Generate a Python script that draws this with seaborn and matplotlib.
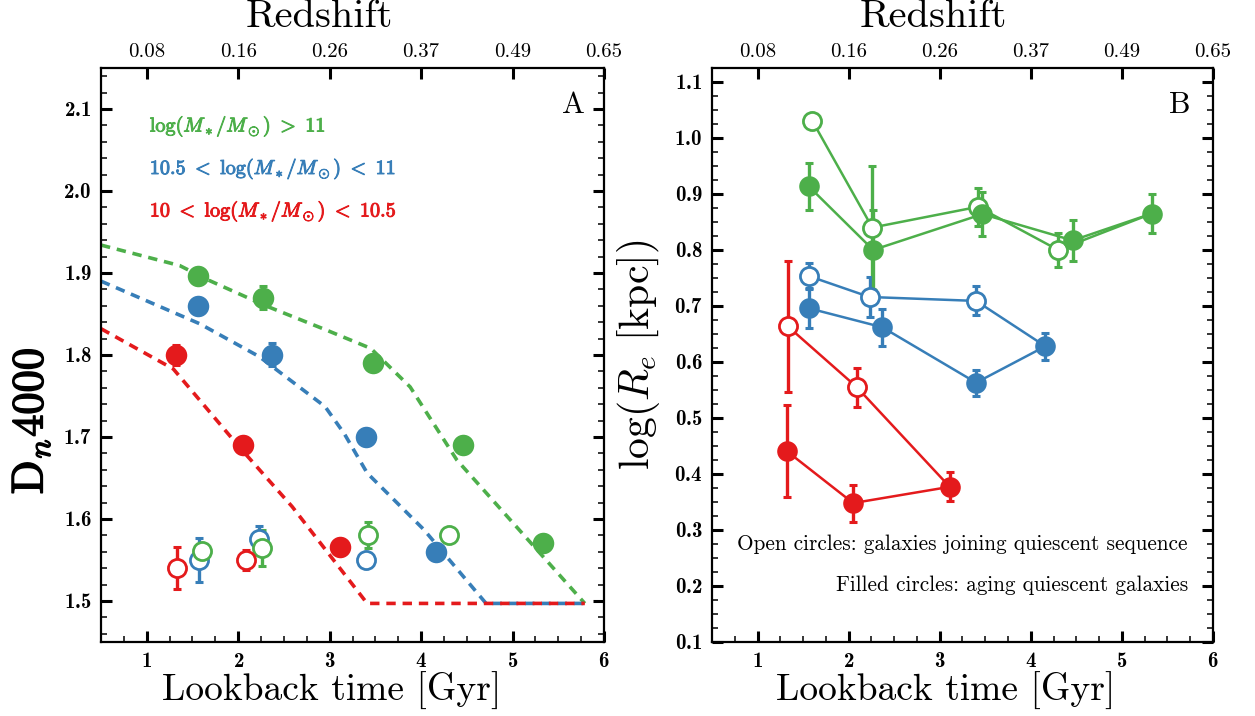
import matplotlib
matplotlib.use("Agg")
import matplotlib.pyplot as plt
import matplotlib.patheffects as pe
import seaborn as sns
from matplotlib.ticker import MultipleLocator, FixedLocator

sns.set_theme(style="ticks")
plt.rcParams["font.family"] = ["cmr10"]
plt.rcParams["mathtext.fontset"] = "cm"
plt.rcParams["axes.unicode_minus"] = False
plt.rcParams["axes.formatter.use_mathtext"] = True
for key in ["text.color", "axes.labelcolor", "xtick.color", "ytick.color",
            "axes.edgecolor"]:
    plt.rcParams[key] = "black"

GREEN, BLUE, RED = "#4daf4a", "#377eb8", "#e41a1c"

# ---- stacked bins: lookback time [Gyr] ----
t_fill_hi = [1.56, 2.27, 3.47, 4.46, 5.33]
t_fill_mid = [1.56, 2.37, 3.40, 4.16]
t_fill_lo = [1.32, 2.05, 3.11]
t_open_hi = [1.60, 2.26, 3.42, 4.30]
t_open_mid = [1.57, 2.23, 3.40]
t_open_lo = [1.33, 2.09]

# ---- Dn4000 ----
dn_fill_hi = [1.896, 1.870, 1.790, 1.690, 1.571]
dn_fill_mid = [1.860, 1.800, 1.700, 1.560]
dn_fill_lo = [1.800, 1.690, 1.566]
dn_fill_hi_err = [0.010, 0.014, 0.010, 0.010, 0.010]
dn_fill_mid_err = [0.010, 0.014, 0.010, 0.010]
dn_fill_lo_err = [0.012, 0.010, 0.010]
dn_open_hi = [1.561, 1.565, 1.580, 1.580]
dn_open_mid = [1.550, 1.576, 1.550]
dn_open_lo = [1.540, 1.550]
dn_open_hi_err = [0.010, 0.022, 0.016, 0.008]
dn_open_mid_err = [0.027, 0.015, 0.008]
dn_open_lo_err = [0.026, 0.012]

# ---- passive-evolution tracks of Dn4000 ----
trk_t_hi = [0.50, 1.36, 1.68, 2.30, 2.95, 3.45, 3.88, 4.39, 5.79]
trk_dn_hi = [1.934, 1.909, 1.891, 1.860, 1.831, 1.808, 1.761, 1.672, 1.497]
trk_t_mid = [0.50, 1.58, 2.23, 2.95, 3.16, 3.41, 4.03, 4.71, 5.79]
trk_dn_mid = [1.890, 1.838, 1.798, 1.737, 1.704, 1.656, 1.587, 1.497, 1.497]
trk_t_lo = [0.50, 1.29, 2.01, 2.59, 3.41, 5.79]
trk_dn_lo = [1.832, 1.783, 1.688, 1.615, 1.497, 1.497]

# ---- log effective radius [kpc] ----
re_fill_hi = [0.914, 0.800, 0.864, 0.817, 0.865]
re_fill_mid = [0.696, 0.662, 0.563, 0.628]
re_fill_lo = [0.441, 0.348, 0.377]
re_fill_hi_err = [0.042, 0.072, 0.039, 0.036, 0.035]
re_fill_mid_err = [0.036, 0.033, 0.023, 0.024]
re_fill_lo_err = [0.083, 0.033, 0.026]
re_open_hi = [1.031, 0.840, 0.877, 0.800]
re_open_mid = [0.753, 0.716, 0.709]
re_open_lo = [0.664, 0.555]
re_open_hi_err = [0.006, 0.110, 0.034, 0.031]
re_open_mid_err = [0.023, 0.036, 0.026]
re_open_lo_err = [0.117, 0.035]

# ---- axis labelling ----
bottom_ticks = [1, 2, 3, 4, 5, 6]
redshift_labels = ["0.08", "0.16", "0.26", "0.37", "0.49", "0.65"]
mass_labels = [r"$\log(M_*/M_\odot)\ >\ 11$",
               r"$10.5\ <\ \log(M_*/M_\odot)\ <\ 11$",
               r"$10\ <\ \log(M_*/M_\odot)\ <\ 10.5$"]

fig = plt.figure(figsize=(12.55, 7.16), dpi=100)
axA = fig.add_axes([0.0805, 0.1034, 0.4008, 0.8017])
axB = fig.add_axes([0.5673, 0.1034, 0.3992, 0.8017])


def style_axes(ax, ymajor, yminor, label_x):
    ax.set_xlim(0.5, 6.0)
    ax.xaxis.set_major_locator(FixedLocator(bottom_ticks))
    ax.xaxis.set_minor_locator(MultipleLocator(0.25))
    ax.yaxis.set_major_locator(MultipleLocator(ymajor))
    ax.yaxis.set_minor_locator(MultipleLocator(yminor))
    ax.tick_params(which="both", direction="in", left=True, right=True,
                   bottom=True, top=False, labelsize=15, colors="black")
    ax.tick_params(which="major", length=8, width=2.2, pad=7)
    ax.tick_params(which="minor", length=4.5, width=1.1)
    for sp in ax.spines.values():
        sp.set_linewidth(1.6)
        sp.set_color("black")
        sp.set_visible(True)
    for lab in ax.get_xticklabels() + ax.get_yticklabels():
        lab.set_family("cmb10")
    sec = ax.secondary_xaxis("top")
    sec.xaxis.set_major_locator(FixedLocator(bottom_ticks))
    sec.set_xticklabels(redshift_labels)
    sec.tick_params(direction="in", length=8, width=2.2, labelsize=15, pad=5,
                    colors="black")
    ax.text(label_x - 0.025, 1.058, "Redshift", fontsize=29,
            transform=ax.transAxes, ha="center", va="bottom")
    ax.set_xlabel("Lookback time [Gyr]", fontsize=27)
    ax.xaxis.set_label_coords(label_x, -0.052)


def errs(ax, x, y, e, color, lw=2.4):
    ax.errorbar(x, y, yerr=e, fmt="none", ecolor=color, elinewidth=lw,
                capsize=3.2, capthick=2.2, zorder=2)


# ---------------- panel A : Dn4000 ----------------
for tt, dd, c in [(trk_t_hi, trk_dn_hi, GREEN), (trk_t_mid, trk_dn_mid, BLUE),
                  (trk_t_lo, trk_dn_lo, RED)]:
    sns.lineplot(x=tt, y=dd, ax=axA, sort=False, estimator=None, color=c,
                 linewidth=2.6, linestyle=(0, (2.6, 1.9)), zorder=1)

for x, y, e, c in [(t_fill_hi, dn_fill_hi, dn_fill_hi_err, GREEN),
                   (t_fill_mid, dn_fill_mid, dn_fill_mid_err, BLUE),
                   (t_fill_lo, dn_fill_lo, dn_fill_lo_err, RED)]:
    errs(axA, x, y, e, c)
    sns.scatterplot(x=x, y=y, ax=axA, s=240, color=c, edgecolor=c,
                    linewidth=0, zorder=4)

for x, y, e, c in [(t_open_mid, dn_open_mid, dn_open_mid_err, BLUE),
                   (t_open_hi, dn_open_hi, dn_open_hi_err, GREEN),
                   (t_open_lo, dn_open_lo, dn_open_lo_err, RED)]:
    errs(axA, x, y, e, c)
    sns.scatterplot(x=x, y=y, ax=axA, s=170, color="white", edgecolor=c,
                    linewidth=2.0, zorder=4)

axA.set_ylim(1.45, 2.15)
style_axes(axA, 0.1, 0.02, 0.458)
axA.set_ylabel(r"$\mathrm{D}_{n}4000$", fontsize=32,
               path_effects=[pe.withStroke(linewidth=1.1, foreground="black")])
axA.yaxis.set_label_coords(-0.097, 0.385)

for lab, c, yy in zip(mass_labels, [GREEN, BLUE, RED], [0.898, 0.824, 0.750]):
    axA.text(0.097, yy, lab, color=c, fontsize=14.5, transform=axA.transAxes,
             ha="left", va="center",
             path_effects=[pe.withStroke(linewidth=0.7, foreground=c)])
axA.text(0.962, 0.935, "A", fontsize=22, transform=axA.transAxes,
         ha="right", va="center")

# ---------------- panel B : log Re ----------------
line_sets = [
    (t_open_hi + [t_fill_hi[-1]], re_open_hi + [re_fill_hi[-1]], GREEN),
    (t_fill_hi, re_fill_hi, GREEN),
    (t_open_mid + [t_fill_mid[-1]], re_open_mid + [re_fill_mid[-1]], BLUE),
    (t_fill_mid, re_fill_mid, BLUE),
    (t_open_lo + [t_fill_lo[-1]], re_open_lo + [re_fill_lo[-1]], RED),
    (t_fill_lo, re_fill_lo, RED),
]
for x, y, c in line_sets:
    sns.lineplot(x=x, y=y, ax=axB, sort=False, estimator=None, color=c,
                 linewidth=1.8, zorder=1)

for x, y, e, c in [(t_open_hi, re_open_hi, re_open_hi_err, GREEN),
                   (t_open_mid, re_open_mid, re_open_mid_err, BLUE),
                   (t_open_lo, re_open_lo, re_open_lo_err, RED)]:
    errs(axB, x, y, e, c)
    sns.scatterplot(x=x, y=y, ax=axB, s=170, color="white", edgecolor=c,
                    linewidth=2.0, zorder=4)

for x, y, e, c in [(t_fill_hi, re_fill_hi, re_fill_hi_err, GREEN),
                   (t_fill_mid, re_fill_mid, re_fill_mid_err, BLUE),
                   (t_fill_lo, re_fill_lo, re_fill_lo_err, RED)]:
    errs(axB, x, y, e, c)
    sns.scatterplot(x=x, y=y, ax=axB, s=220, color=c, edgecolor=c,
                    linewidth=0, zorder=5)

axB.set_ylim(0.1, 1.125)
style_axes(axB, 0.1, 0.025, 0.467)
axB.set_ylabel(r"$\log(R_e\ [\mathrm{kpc}])$", fontsize=30)
axB.yaxis.set_label_coords(-0.1, 0.5)
axB.text(0.955, 0.935, "B", fontsize=22, transform=axB.transAxes,
         ha="right", va="center")
axB.text(0.95, 0.171, "Open circles: galaxies joining quiescent sequence",
         fontsize=15.3, transform=axB.transAxes, ha="right", va="center")
axB.text(0.95, 0.098, "Filled circles: aging quiescent galaxies",
         fontsize=15.3, transform=axB.transAxes, ha="right", va="center")

fig.savefig("out.png", dpi=100)
